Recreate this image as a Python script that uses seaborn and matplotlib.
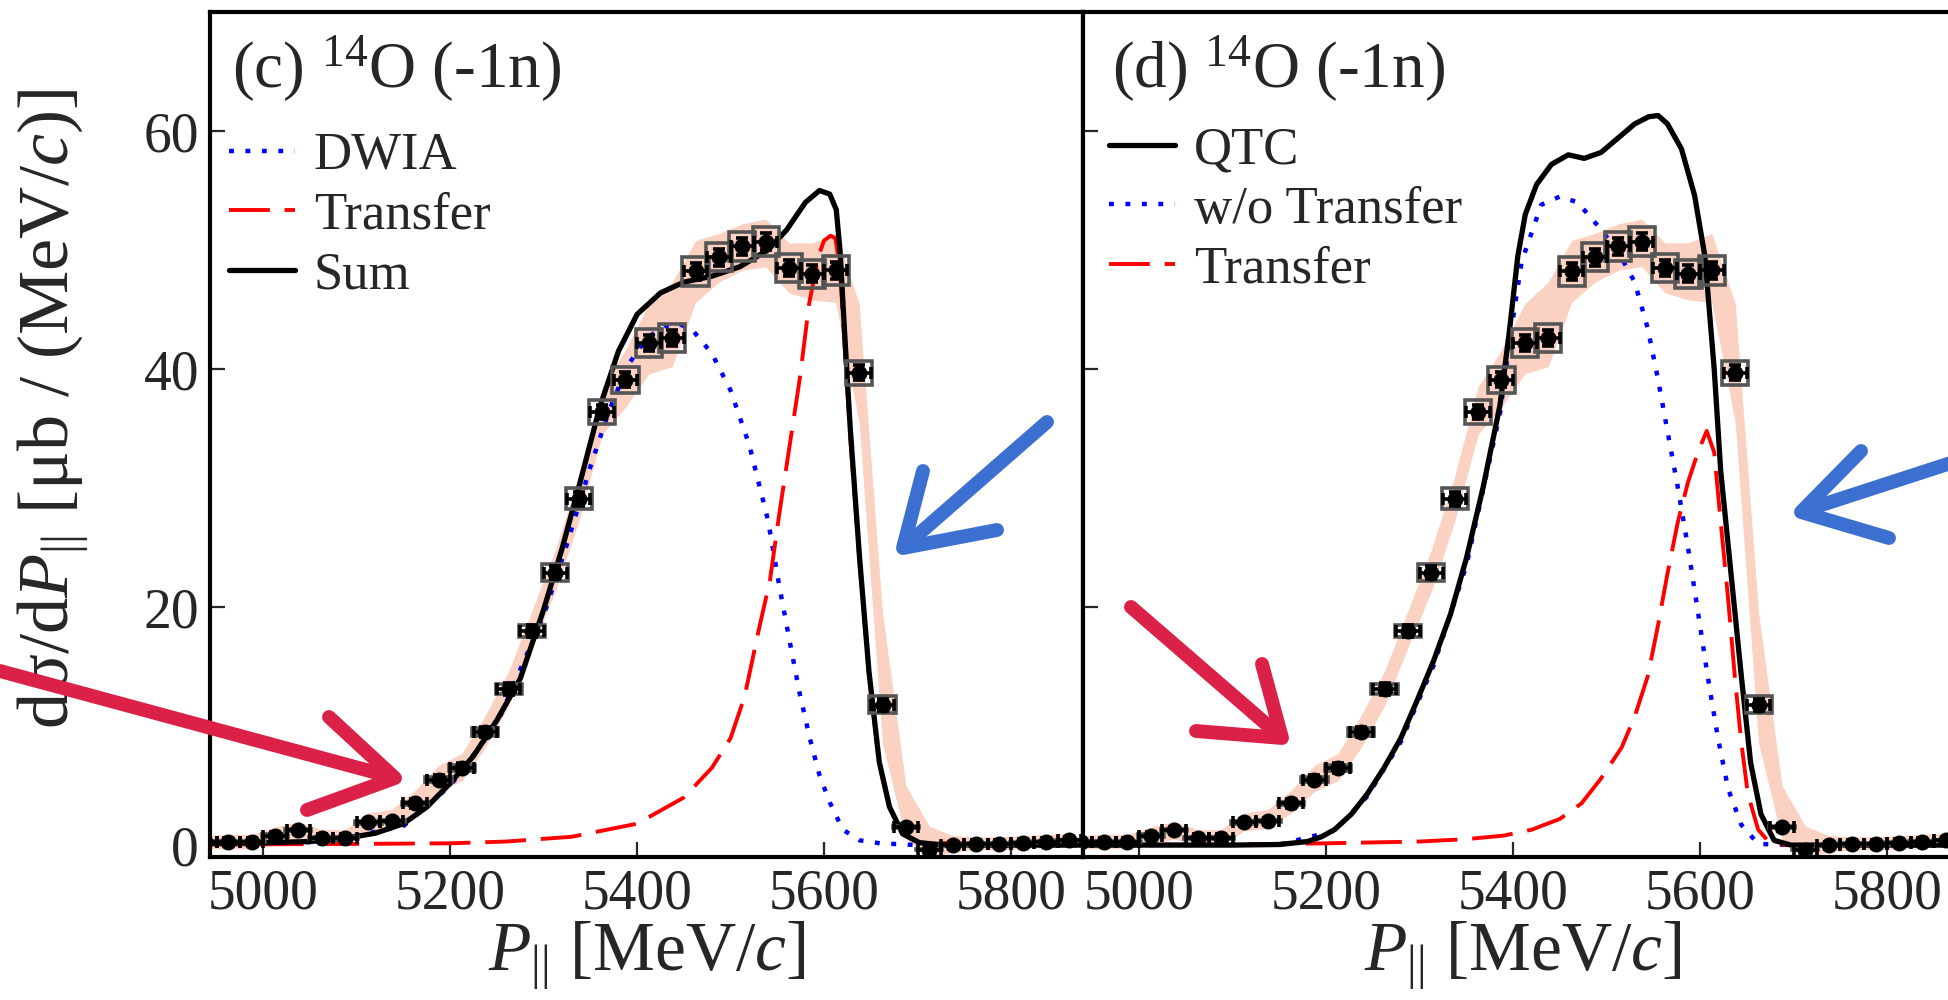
import numpy as np
import pandas as pd
import matplotlib.pyplot as plt
import seaborn as sns
from matplotlib.lines import Line2D

# measured points (bin centres, MeV/c) and cross sections (ub/(MeV/c))
p_data = [4937.5, 4962.5, 4987.5, 5012.5, 5037.5, 5062.5, 5087.5, 5112.5, 5137.5, 5162.5,
          5187.5, 5212.5, 5237.5, 5262.5, 5287.5, 5312.5, 5337.5, 5362.5, 5387.5, 5412.5,
          5437.5, 5462.5, 5487.5, 5512.5, 5537.5, 5562.5, 5587.5, 5612.5, 5637.5, 5662.5,
          5687.5, 5712.5, 5737.5, 5762.5, 5787.5, 5812.5, 5837.5, 5862.5]
xs_data = [0.3, 0.3, 0.3, 0.8, 1.25, 0.6, 0.6, 1.9, 2.0, 3.5,
           5.5, 6.5, 9.5, 13.1, 18.0, 22.9, 29.1, 36.4, 39.1, 42.2,
           42.6, 48.2, 49.4, 50.3, 50.7, 48.5, 48.0, 48.3, 39.7, 11.8,
           1.5, -0.4, 0.0, 0.1, 0.1, 0.2, 0.3, 0.4]
stat_err = [0.3, 0.3, 0.3, 0.3, 0.3, 0.3, 0.3, 0.3, 0.3, 0.35,
            0.4, 0.4, 0.45, 0.5, 0.5, 0.55, 0.6, 0.6, 0.65, 0.65,
            0.65, 0.7, 0.7, 0.7, 0.7, 0.7, 0.7, 0.7, 0.65, 0.5,
            0.3, 0.3, 0.3, 0.3, 0.3, 0.3, 0.3, 0.3]
syst_err = [0.05, 0.05, 0.05, 0.1, 0.1, 0.05, 0.05, 0.1, 0.1, 0.15,
            0.2, 0.25, 0.3, 0.4, 0.5, 0.7, 0.9, 1.0, 1.1, 1.2,
            1.2, 1.2, 1.2, 1.2, 1.2, 1.2, 1.2, 1.2, 1.0, 0.7,
            0.1, 0.05, 0.05, 0.05, 0.05, 0.05, 0.05, 0.05]
band_lo = [-0.3, -0.3, -0.3, 0.1, 0.5, 0.0, 0.0, 1.2, 1.4, 2.7,
           4.5, 5.4, 8.2, 11.7, 16.6, 21.3, 27.2, 34.5, 36.8, 39.6,
           40.2, 45.6, 47.3, 48.3, 48.6, 46.4, 45.8, 45.6, 35.5, 8.5,
           0.5, -1.0, -0.6, -0.4, -0.4, -0.3, -0.2, -0.1]
band_hi = [0.8, 0.9, 0.9, 1.5, 2.0, 1.3, 1.3, 2.7, 3.0, 4.6,
           6.7, 7.7, 10.9, 14.6, 19.7, 24.8, 31.0, 38.5, 41.6, 45.5,
           47.3, 50.8, 51.4, 52.2, 52.6, 50.6, 50.6, 51.4, 45.5, 19.5,
           5.0, 1.6, 0.8, 0.7, 0.7, 0.8, 0.9, 1.0]

# panel (c) calculations
sum_p = [4940, 5000, 5050, 5090, 5120, 5150, 5175, 5200, 5225, 5250, 5275, 5300, 5320, 5340,
         5360, 5380, 5400, 5425, 5450, 5480, 5510, 5540, 5560, 5580, 5595, 5606, 5613, 5617,
         5622, 5628, 5638, 5648, 5659, 5670, 5684, 5702, 5730, 5880]
sum_v = [0.15, 0.2, 0.3, 0.6, 1.0, 1.8, 3.2, 5.2, 7.5, 10.5, 14.0, 19.8, 25.0, 30.8,
         36.8, 41.5, 44.6, 46.4, 47.3, 47.8, 48.6, 50.0, 51.7, 54.0, 55.0, 54.7, 53.4, 50.0,
         43.0, 35.0, 24.1, 14.6, 7.0, 3.2, 0.95, 0.2, 0.0, 0.0]
dwia_p = [4940, 5000, 5050, 5100, 5150, 5200, 5250, 5300, 5325, 5350, 5370, 5390, 5410, 5430,
          5445, 5460, 5480, 5500, 5520, 5540, 5552, 5563, 5574, 5585, 5595, 5606, 5620, 5638,
          5660, 5700, 5880]
dwia_v = [0.1, 0.15, 0.25, 0.8, 1.6, 5.0, 10.2, 19.3, 25.3, 31.8, 36.5, 40.3, 42.6, 43.6,
          43.8, 43.2, 41.3, 38.2, 33.6, 27.3, 21.8, 17.2, 12.7, 8.9, 5.9, 3.6, 1.3, 0.4,
          0.15, 0.0, 0.0]
trc_p = [4940, 5100, 5200, 5260, 5330, 5400, 5450, 5480, 5500, 5515, 5531, 5542, 5552, 5563,
         5574, 5584, 5594, 5600, 5607, 5612, 5617, 5622, 5628, 5638, 5648, 5659, 5670, 5684,
         5702, 5880]
trc_v = [0.05, 0.1, 0.15, 0.3, 0.7, 1.8, 4.0, 6.5, 9.0, 12.5, 18.4, 22.2, 27.8, 33.5,
         39.2, 45.5, 49.5, 50.8, 51.2, 51.0, 48.5, 41.8, 34.2, 23.7, 14.3, 6.8, 3.1, 0.9,
         0.2, 0.0]

# panel (d) calculations
qtc_p = [4940, 5100, 5150, 5180, 5195, 5209, 5227, 5244, 5262, 5280, 5297, 5315, 5333, 5350,
         5368, 5386, 5396, 5405, 5413, 5425, 5441, 5459, 5476, 5494, 5512, 5530, 5545, 5555,
         5565, 5580, 5594, 5605, 5615, 5622, 5633, 5644, 5654, 5665, 5679, 5697, 5720, 5880]
qtc_v = [0.0, 0.0, 0.05, 0.3, 0.7, 1.3, 2.6, 4.3, 6.5, 9.0, 12.1, 15.5, 19.4, 24.1,
         30.1, 37.0, 43.2, 49.5, 53.0, 55.5, 57.2, 58.0, 57.7, 58.2, 59.4, 60.6, 61.2, 61.3,
         60.6, 58.5, 54.6, 49.5, 40.0, 31.4, 22.8, 14.2, 6.9, 2.6, 0.4, 0.0, 0.0, 0.0]
wo_p = [4940, 5150, 5209, 5244, 5280, 5315, 5350, 5386, 5396, 5409, 5430, 5450, 5469, 5491,
        5512, 5530, 5544, 5555, 5565, 5576, 5587, 5598, 5608, 5619, 5630, 5644, 5662, 5700, 5880]
wo_v = [0.0, 0.05, 1.2, 4.1, 8.7, 15.1, 23.5, 36.3, 42.2, 49.0, 53.8, 54.5, 54.0, 52.0,
        49.9, 47.3, 43.4, 39.1, 34.8, 30.1, 25.0, 19.4, 14.2, 9.0, 4.7, 1.7, 0.1, 0.0, 0.0]
trd_p = [4940, 5100, 5200, 5300, 5350, 5390, 5420, 5450, 5473, 5494, 5516, 5530, 5544, 5555,
         5565, 5576, 5587, 5598, 5607, 5615, 5622, 5630, 5637, 5644, 5651, 5662, 5672, 5690, 5880]
trd_v = [0.0, 0.05, 0.15, 0.3, 0.5, 0.8, 1.3, 2.2, 3.5, 5.6, 8.2, 10.8, 14.2, 18.5,
         22.8, 27.1, 30.5, 33.1, 34.8, 33.0, 27.1, 20.6, 14.2, 8.6, 4.3, 1.3, 0.4, 0.0, 0.0]

data = pd.DataFrame({'p': p_data, 'xs': xs_data, 'stat': stat_err, 'syst': syst_err,
                     'lo': band_lo, 'hi': band_hi})

sns.set_theme(style='ticks')
plt.rcParams['font.family'] = ['Liberation Serif', 'DejaVu Serif']
plt.rcParams['mathtext.fontset'] = 'custom'
plt.rcParams['mathtext.rm'] = 'Liberation Serif'
plt.rcParams['mathtext.it'] = 'Liberation Serif:italic'

W, H = 1948, 1000
fig = plt.figure(figsize=(W / 100, H / 100), dpi=100, facecolor='white')
ax1 = fig.add_axes([210 / W, 143 / H, 873 / W, 845 / H])
ax2 = fig.add_axes([1083 / W, 143 / H, 879 / W, 845 / H])

black_kw = dict(color='black', lw=3.8)
blue_kw = dict(color='#0000ff', lw=3.2, linestyle=(0, (1.1, 2.6)))
red_kw = dict(color='#ff0000', lw=2.8, linestyle=(0, (10.5, 3.8)))
leg_kw = dict(loc='upper left', frameon=False, fontsize=38, handlelength=1.25,
              handletextpad=0.35, labelspacing=0.22, borderpad=0, borderaxespad=0)


def draw_data(ax):
    ax.fill_between(data['p'], data['lo'], data['hi'], color='#fbd2c2', lw=0, zorder=1)
    ax.bar(data['p'], 2 * data['syst'], bottom=data['xs'] - data['syst'], width=28,
           fill=False, edgecolor='#555555', linewidth=2.6, zorder=4)
    ax.errorbar(data['p'], data['xs'], xerr=12.5, yerr=data['stat'], fmt='o', color='black',
                ms=10.5, capsize=4.5, elinewidth=2.6, capthick=2.6, zorder=5)


def style_axes(ax, xlim, labels_left):
    ax.set_xlim(*xlim)
    ax.set_ylim(-1, 70)
    ax.set_xticks([5000, 5200, 5400, 5600, 5800])
    ax.set_yticks([0, 20, 40, 60])
    ax.tick_params(direction='in', length=11, width=1.6, labelsize=40, pad=8,
                   top=False, right=False, labelleft=labels_left)
    for s in ax.spines.values():
        s.set_linewidth(3)
        s.set_color('black')
    ax.set_xlabel('$P_{||}$ [MeV/$c$]', fontsize=50, labelpad=0)


# (c)
draw_data(ax1)
sns.lineplot(x=dwia_p, y=dwia_v, ax=ax1, label='DWIA', zorder=3, **blue_kw)
sns.lineplot(x=trc_p, y=trc_v, ax=ax1, label='Transfer', zorder=3.1, **red_kw)
sns.lineplot(x=sum_p, y=sum_v, ax=ax1, label='Sum', zorder=3.2, **black_kw)
style_axes(ax1, (4943, 5877), True)
ax1.set_ylabel('dσ/d$P_{||}$ [μb / (MeV/$c$)]', fontsize=52, labelpad=10)
ax1.yaxis.set_label_coords(-0.135, 0.53)
ax1.text(0.025, 0.975, '(c) $^{14}$O (-1n)', transform=ax1.transAxes,
         ha='left', va='top', fontsize=47)
ax1.legend(bbox_to_anchor=(0.022, 0.858), **leg_kw)

# (d)
draw_data(ax2)
sns.lineplot(x=wo_p, y=wo_v, ax=ax2, label='w/o Transfer', zorder=3, **blue_kw)
sns.lineplot(x=trd_p, y=trd_v, ax=ax2, label='Transfer', zorder=3.1, **red_kw)
sns.lineplot(x=qtc_p, y=qtc_v, ax=ax2, label='QTC', zorder=3.2, **black_kw)
style_axes(ax2, (4940, 5880), False)
ax2.set_ylabel('')
ax2.text(0.033, 0.975, '(d) $^{14}$O (-1n)', transform=ax2.transAxes,
         ha='left', va='top', fontsize=47)
h, l = ax2.get_legend_handles_labels()
order = [l.index('QTC'), l.index('w/o Transfer'), l.index('Transfer')]
ax2.legend([h[i] for i in order], [l[i] for i in order],
           bbox_to_anchor=(0.03, 0.865), **leg_kw)

# hand-drawn arrows laid over the figure (pixel positions in the full image)
arrows = [
    ('#dc2148', [(0, 671), (392, 777)], [(329, 717), (395, 778), (307, 810)]),
    ('#dc2148', [(1131, 607), (1280, 736)], [(1262, 664), (1282, 738), (1196, 731)]),
    ('#3b6fd0', [(1047, 422), (905, 546)], [(923, 471), (903, 548), (997, 530)]),
    ('#3b6fd0', [(1960, 460), (1803, 511)], [(1861, 451), (1801, 512), (1889, 538)]),
]
for col, shaft, head in arrows:
    for pts in (shaft, head):
        fig.add_artist(Line2D([p[0] / W for p in pts], [1 - p[1] / H for p in pts],
                              transform=fig.transFigure, color=col, lw=10,
                              solid_capstyle='round', solid_joinstyle='round', zorder=10))

fig.savefig('out.png', dpi=100, facecolor='white')
